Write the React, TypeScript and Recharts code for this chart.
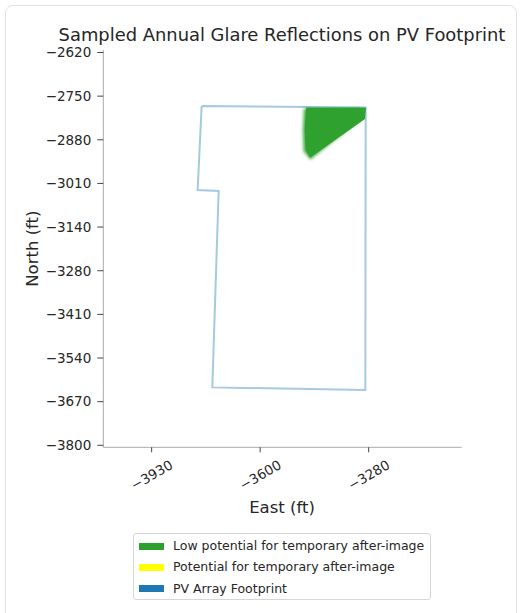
import React from 'react';
import { ScatterChart, Scatter, XAxis, YAxis } from 'recharts';

// Tick positions (matplotlib linspace) and their displayed labels are rounded to 10 ft
const eastTicks = [-3930, -3604.5, -3279];
const northTicks = [-3800, -3668.9, -3537.8, -3406.7, -3275.6, -3144.4, -3013.3, -2882.2, -2751.1, -2620];

// PV array footprint outline (closed)
const footprintEast = [-3780, -3288, -3289, -3748, -3729, -3792, -3780];
const footprintNorth = [-2781, -2785, -3634, -3626, -3036, -3033, -2781];

// Sampled glare reflections (low potential for temporary after-image)
const glareEast = [-3467, -3287, -3290, -3455, -3468, -3471];
const glareNorth = [-2785, -2785, -2820, -2936, -2913, -2853];
// soft fringe of the sampled points
const glareFringeEast = [-3474, -3300, -3300, -3454, -3475, -3477];
const glareFringeNorth = [-2788, -2788, -2820, -2942, -2917, -2853];

const legendNames = [
  'Low potential for temporary after-image',
  'Potential for temporary after-image',
  'PV Array Footprint',
];
const legendColors = ['#2ca02c', '#ffff00', '#1f77b4'];

const toPts = (xs: number[], ys: number[]) => xs.map((x, i) => ({ x, y: ys[i] }));
const footprint = toPts(footprintEast, footprintNorth);
const glare = toPts(glareEast, glareNorth);
const glareFringe = toPts(glareFringeEast, glareFringeNorth);

const FONT = '"DejaVu Sans", sans-serif';
const fmt = (v: number) => {
  const r = Math.round(v / 10) * 10;
  return r < 0 ? '\u2212' + Math.abs(r) : String(r);
};

const XTick = (props: any) => {
  const { x, y, payload } = props;
  return (
    <g transform={`translate(${x},${y})`}>
      <text
        transform="translate(0,20.5) rotate(-30)"
        textAnchor="middle"
        dominantBaseline="central"
        fontSize={13.5}
        fontFamily={FONT}
        fill="#262626"
      >
        {fmt(payload.value)}
      </text>
    </g>
  );
};

const noShape = () => <g />;

export default function App() {
  return (
    <div style={{ position: 'fixed', left: 0, top: 0, width: 521, height: 613, overflow: 'hidden', background: '#fff', fontFamily: FONT }}>
      <svg width={0} height={0} style={{ position: 'absolute' }}>
        <defs>
          <filter id="glareBlur" x="-20%" y="-20%" width="140%" height="140%">
            <feGaussianBlur stdDeviation="1.6" />
          </filter>
        </defs>
      </svg>
      <div
        style={{
          position: 'absolute', left: 5, top: 5, width: 512, height: 640,
          border: '1px solid #e2e2e2', borderRadius: 8, boxSizing: 'border-box',
        }}
      />
      <div style={{ position: 'absolute', left: 0, top: 0 }}>
        <ScatterChart width={521} height={520} margin={{ top: 50, right: 59.3, left: 0, bottom: 0 }}>
          <XAxis
            type="number"
            dataKey="x"
            domain={[-4075, -3000]}
            allowDataOverflow
            ticks={eastTicks}
            interval={0}
            height={72.7}
            tickSize={5}
            tick={<XTick />}
            axisLine={{ stroke: '#aaaaaa', strokeWidth: 1 }}
            tickLine={{ stroke: '#444444', strokeWidth: 1 }}
          />
          <YAxis
            type="number"
            dataKey="y"
            domain={[-3806, -2612.5]}
            allowDataOverflow
            ticks={northTicks}
            interval={0}
            width={103.3}
            tickSize={6}
            tickMargin={6}
            tickFormatter={fmt}
            tick={{ fontSize: 13.5, fontFamily: FONT, fill: '#262626' }}
            axisLine={{ stroke: '#aaaaaa', strokeWidth: 1 }}
            tickLine={{ stroke: '#444444', strokeWidth: 1 }}
          />
          <Scatter
            data={footprint}
            isAnimationActive={false}
            shape={noShape}
            fill="#1f77b4"
            line={{ stroke: '#1f77b4', strokeOpacity: 0.4, strokeWidth: 2, fill: 'none' }}
          />
          <Scatter
            data={glareFringe}
            isAnimationActive={false}
            shape={noShape}
            fill="#2ca02c"
            line={{ stroke: 'none', fill: '#2ca02c', fillOpacity: 0.8, filter: 'url(#glareBlur)' }}
          />
          <Scatter
            data={glare}
            isAnimationActive={false}
            shape={noShape}
            fill="#2ca02c"
            line={{ stroke: 'none', fill: '#2ca02c', fillOpacity: 0.97 }}
          />
        </ScatterChart>
      </div>
      <svg width={521} height={613} style={{ position: 'absolute', left: 0, top: 0, pointerEvents: 'none' }}>
        <text x={282} y={41} textAnchor="middle" fontSize={17.9} fontFamily={FONT} fill="#262626">
          Sampled Annual Glare Reflections on PV Footprint
        </text>
        <text x={282} y={513} textAnchor="middle" fontSize={16.5} fontFamily={FONT} fill="#262626">
          East (ft)
        </text>
        <text
          transform="translate(38,248.6) rotate(-90)"
          textAnchor="middle"
          fontSize={16.5}
          fontFamily={FONT}
          fill="#262626"
        >
          North (ft)
        </text>
      </svg>
      <div
        style={{
          position: 'absolute', left: 133, top: 533, width: 298, height: 67,
          border: '1px solid #d6d6d6', borderRadius: 3, boxSizing: 'border-box',
        }}
      >
        {legendNames.map((name, i) => (
          <div key={name} style={{ position: 'absolute', left: 0, top: 4 + i * 21.3, height: 16, width: '100%' }}>
            <div style={{ position: 'absolute', left: 5, top: 4.5, width: 25, height: 7, background: legendColors[i] }} />
            <div style={{ position: 'absolute', left: 39, top: -1, fontSize: 12.5, lineHeight: '18px', color: '#262626', whiteSpace: 'nowrap' }}>
              {name}
            </div>
          </div>
        ))}
      </div>
    </div>
  );
}
